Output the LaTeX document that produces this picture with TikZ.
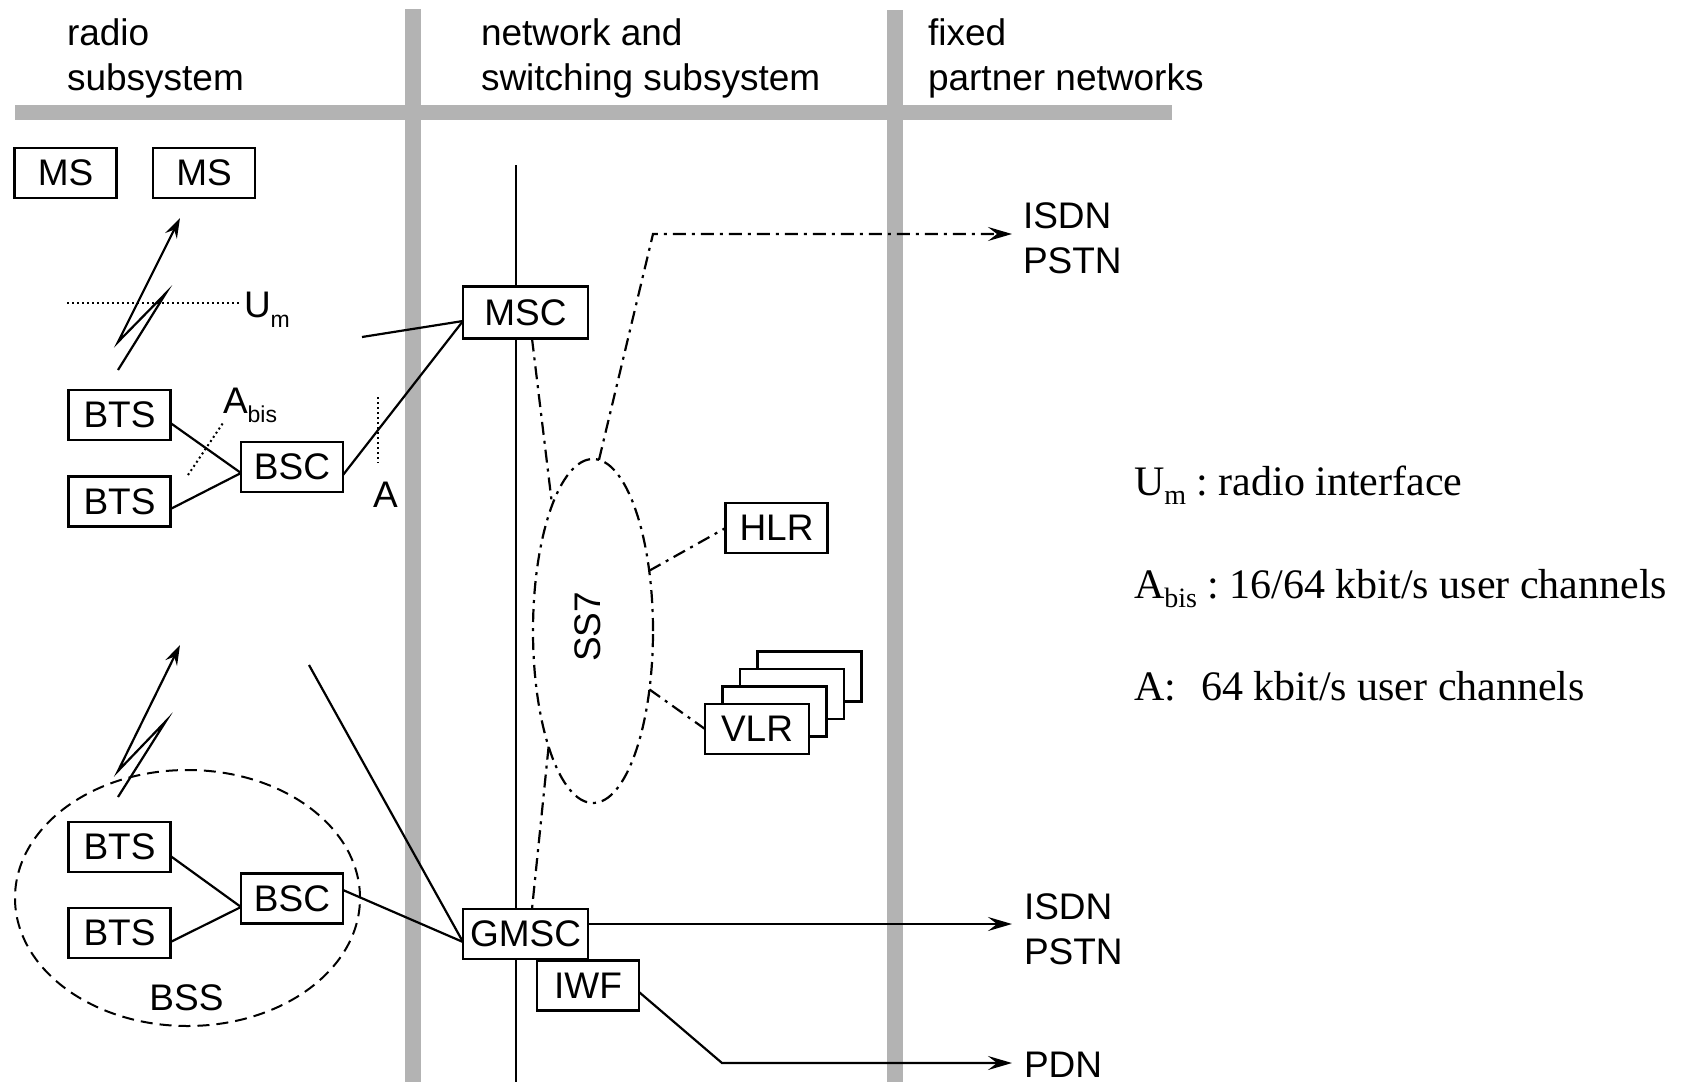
\documentclass[tikz,border=0pt]{standalone}
\usepackage{fontspec}
\setmainfont{Liberation Sans}
\newfontfamily\legendfont{Liberation Serif}
\usetikzlibrary{arrows.meta,shapes.geometric,backgrounds}
\definecolor{barcol}{RGB}{179,179,179}
\begin{document}
\begin{tikzpicture}[x=1pt,y=-1pt,
  every node/.style={font=\fontsize{37pt}{44.5pt}\selectfont},
  box/.style={draw,line width=2.2pt,fill=white,minimum width=102pt,minimum height=50pt,inner sep=0pt,outer sep=0pt},
  wbox/.style={box,minimum width=125pt},
  conn/.style={line width=2.2pt},
  ddline/.style={line width=2.2pt,dash pattern=on 13pt off 6pt on 3pt off 6pt},
  dotline/.style={line width=2pt,dash pattern=on 2pt off 3pt},
  dashline/.style={line width=2pt,dash pattern=on 12pt off 7pt},
  txt/.style={inner sep=0pt,outer sep=0pt,anchor=base west},
  lgd/.style={font=\legendfont\fontsize{42pt}{50pt}\selectfont\frenchspacing},
  arr/.style={-{Stealth[length=24pt,width=14pt,inset=9pt]}},
  sarr/.style={-{Stealth[length=20pt,width=13pt,inset=7pt]}},
]
\useasboundingbox (0,0) rectangle (1681,1082);

% header texts
\node[txt] (h1a) at (67,45) {radio};
\node[txt] (h1b) at (67,90) {subsystem};
\node[txt] (h2a) at (481,45) {network and};
\node[txt] (h2b) at (481,90) {switching subsystem};
\node[txt] (h3a) at (928,45) {fixed};
\node[txt] (h3b) at (928,90) {partner networks};

% boxes
\node[box] (ms1) at (65.5,173) {MS};
\node[box] (ms2) at (204,173) {MS};
\node[box] (bts1) at (119.5,415) {BTS};
\node[box] (bts2) at (119.5,501.5) {BTS};
\node[box] (bsc1) at (292,467) {BSC};
\node[box] (bts3) at (119.5,847) {BTS};
\node[box] (bts4) at (119.5,933) {BTS};
\node[box] (bsc2) at (292,898.5) {BSC};
\node[wbox,minimum height=52pt] (msc) at (525.5,312.5) {MSC};
\node[wbox] (gmsc) at (525.5,934) {GMSC};
\node[box] (iwf) at (588,985.5) {IWF};
\node[box] (hlr) at (776.5,528) {HLR};
\foreach \k in {3,2,1}
  \node[box,minimum width=104pt] (vlr\k) at ({757+17.5*\k},{729-17.5*\k}) {};
\node[box,minimum width=104pt] (vlr) at (757,729) {VLR};

% SS7 and BSS ellipses
\node[ellipse,draw,ddline,minimum width=120pt,minimum height=344pt,inner sep=0pt,outer sep=0pt] (ss7) at (593,631) {};
\node[rotate=90,inner sep=0pt] (ss7lab) at (588,627) {SS7};
\node[ellipse,draw,dashline,minimum width=345pt,minimum height=256pt,inner sep=0pt,outer sep=0pt] (bss) at (187.5,898) {};
\node[inner sep=0pt] (bsslab) at (186.5,998) {BSS};

% background: bars and backbone line
\begin{pgfonlayer}{background}
  \fill[barcol] (15,105) rectangle (1172,120);
  \fill[barcol] (405,9) rectangle (421,1082);
  \fill[barcol] (887,10) rectangle (903,1082);
  \coordinate (bbtop) at (516,165);
  \coordinate (bbbot) at (516,1082);
  \draw[conn] (bbtop) -- (bbbot);
\end{pgfonlayer}

% radio links
\coordinate (r1a) at (118,370);
\coordinate (r1b) at (166,293);
\coordinate (r1c) at (118,342);
\coordinate (r1d) at (180,218);
\draw[conn,sarr] (r1a) -- (r1b) -- (r1c) -- (r1d);
\coordinate (r2a) at (118,797);
\coordinate (r2b) at (166,721);
\coordinate (r2c) at (118,771);
\coordinate (r2d) at (180,645);
\draw[conn,sarr] (r2a) -- (r2b) -- (r2c) -- (r2d);

% interface marks
\coordinate (um1) at (67,303);
\coordinate (um2) at (240,303);
\draw[dotline] (um1) -- (um2);
\node[txt] (umlab) at (244,317) {U\raisebox{-10pt}{\fontsize{23pt}{23pt}\selectfont m}};
\coordinate (ab1) at (188,475);
\coordinate (ab2) at (223,423);
\draw[dotline] (ab1) -- (ab2);
\node[txt] (ablab) at (223,413) {A\raisebox{-9pt}{\fontsize{23pt}{23pt}\selectfont bis}};
\coordinate (a1) at (378,397);
\coordinate (a2) at (378,463);
\draw[dotline] (a1) -- (a2);
\node[txt] (alab) at (373,507) {A};

% radio subsystem connectors
\draw[conn] ([yshift=-8pt]bts1.east) -- ([yshift=-6pt]bsc1.west);
\draw[conn] ([yshift=-7.5pt]bts2.east) -- ([yshift=-6pt]bsc1.west);
\draw[conn] ([yshift=-8pt]bsc1.east) -- ([yshift=-8.5pt]msc.west);
\coordinate (f1) at (362,337);
\draw[conn] (f1) -- ([yshift=-8.5pt]msc.west);
\draw[conn] ([yshift=-9pt]bts3.east) -- ([yshift=-8.5pt]bsc2.west);
\draw[conn] ([yshift=-9pt]bts4.east) -- ([yshift=-8.5pt]bsc2.west);
\draw[conn] ([yshift=8.5pt]bsc2.east) -- ([yshift=-8pt]gmsc.west);
\coordinate (f2) at (309,665);
\draw[conn] (f2) -- ([yshift=-8pt]gmsc.west);

% SS7 connectors
\draw[ddline] ([xshift=6.5pt]msc.south) -- (ss7.108);
\draw[ddline] (ss7.-111) -- ([xshift=6.5pt]gmsc.north);
\draw[ddline] (ss7.47) -- (hlr.west);
\draw[ddline] (ss7.-46) -- (vlr.west);
\coordinate (bend1) at (653,234);
\coordinate (isdn1in) at (1012,234);
\draw[ddline,arr] (ss7.88) -- (bend1) -- (isdn1in);

% fixed network connectors
\coordinate (isdn2in) at (1012,924);
\draw[conn,arr] (gmsc.east |- isdn2in) -- (isdn2in);
\coordinate (bend2) at (722,1063);
\coordinate (pdnin) at (1012,1063);
\draw[conn,arr] ([yshift=-6.5pt]iwf.east) -- (bend2) -- (pdnin);

% fixed network labels
\node[txt] (isdn1) at (1023,228) {ISDN};
\node[txt] (pstn1) at (1023,273) {PSTN};
\node[txt] (isdn2) at (1024,919) {ISDN};
\node[txt] (pstn2) at (1024,964) {PSTN};
\node[txt] (pdn) at (1024,1077) {PDN};

% legend
\node[txt,lgd] (lg1) at (1134,495) {U\raisebox{-9pt}{\fontsize{28pt}{28pt}\selectfont m} : radio interface};
\node[txt,lgd] (lg2) at (1134,598) {A\raisebox{-9pt}{\fontsize{28pt}{28pt}\selectfont bis} : 16/64 kbit/s user channels};
\node[txt,lgd] (lg3) at (1134,700) {A:\hspace{0.6em}64 kbit/s user channels};
\end{tikzpicture}
\end{document}
